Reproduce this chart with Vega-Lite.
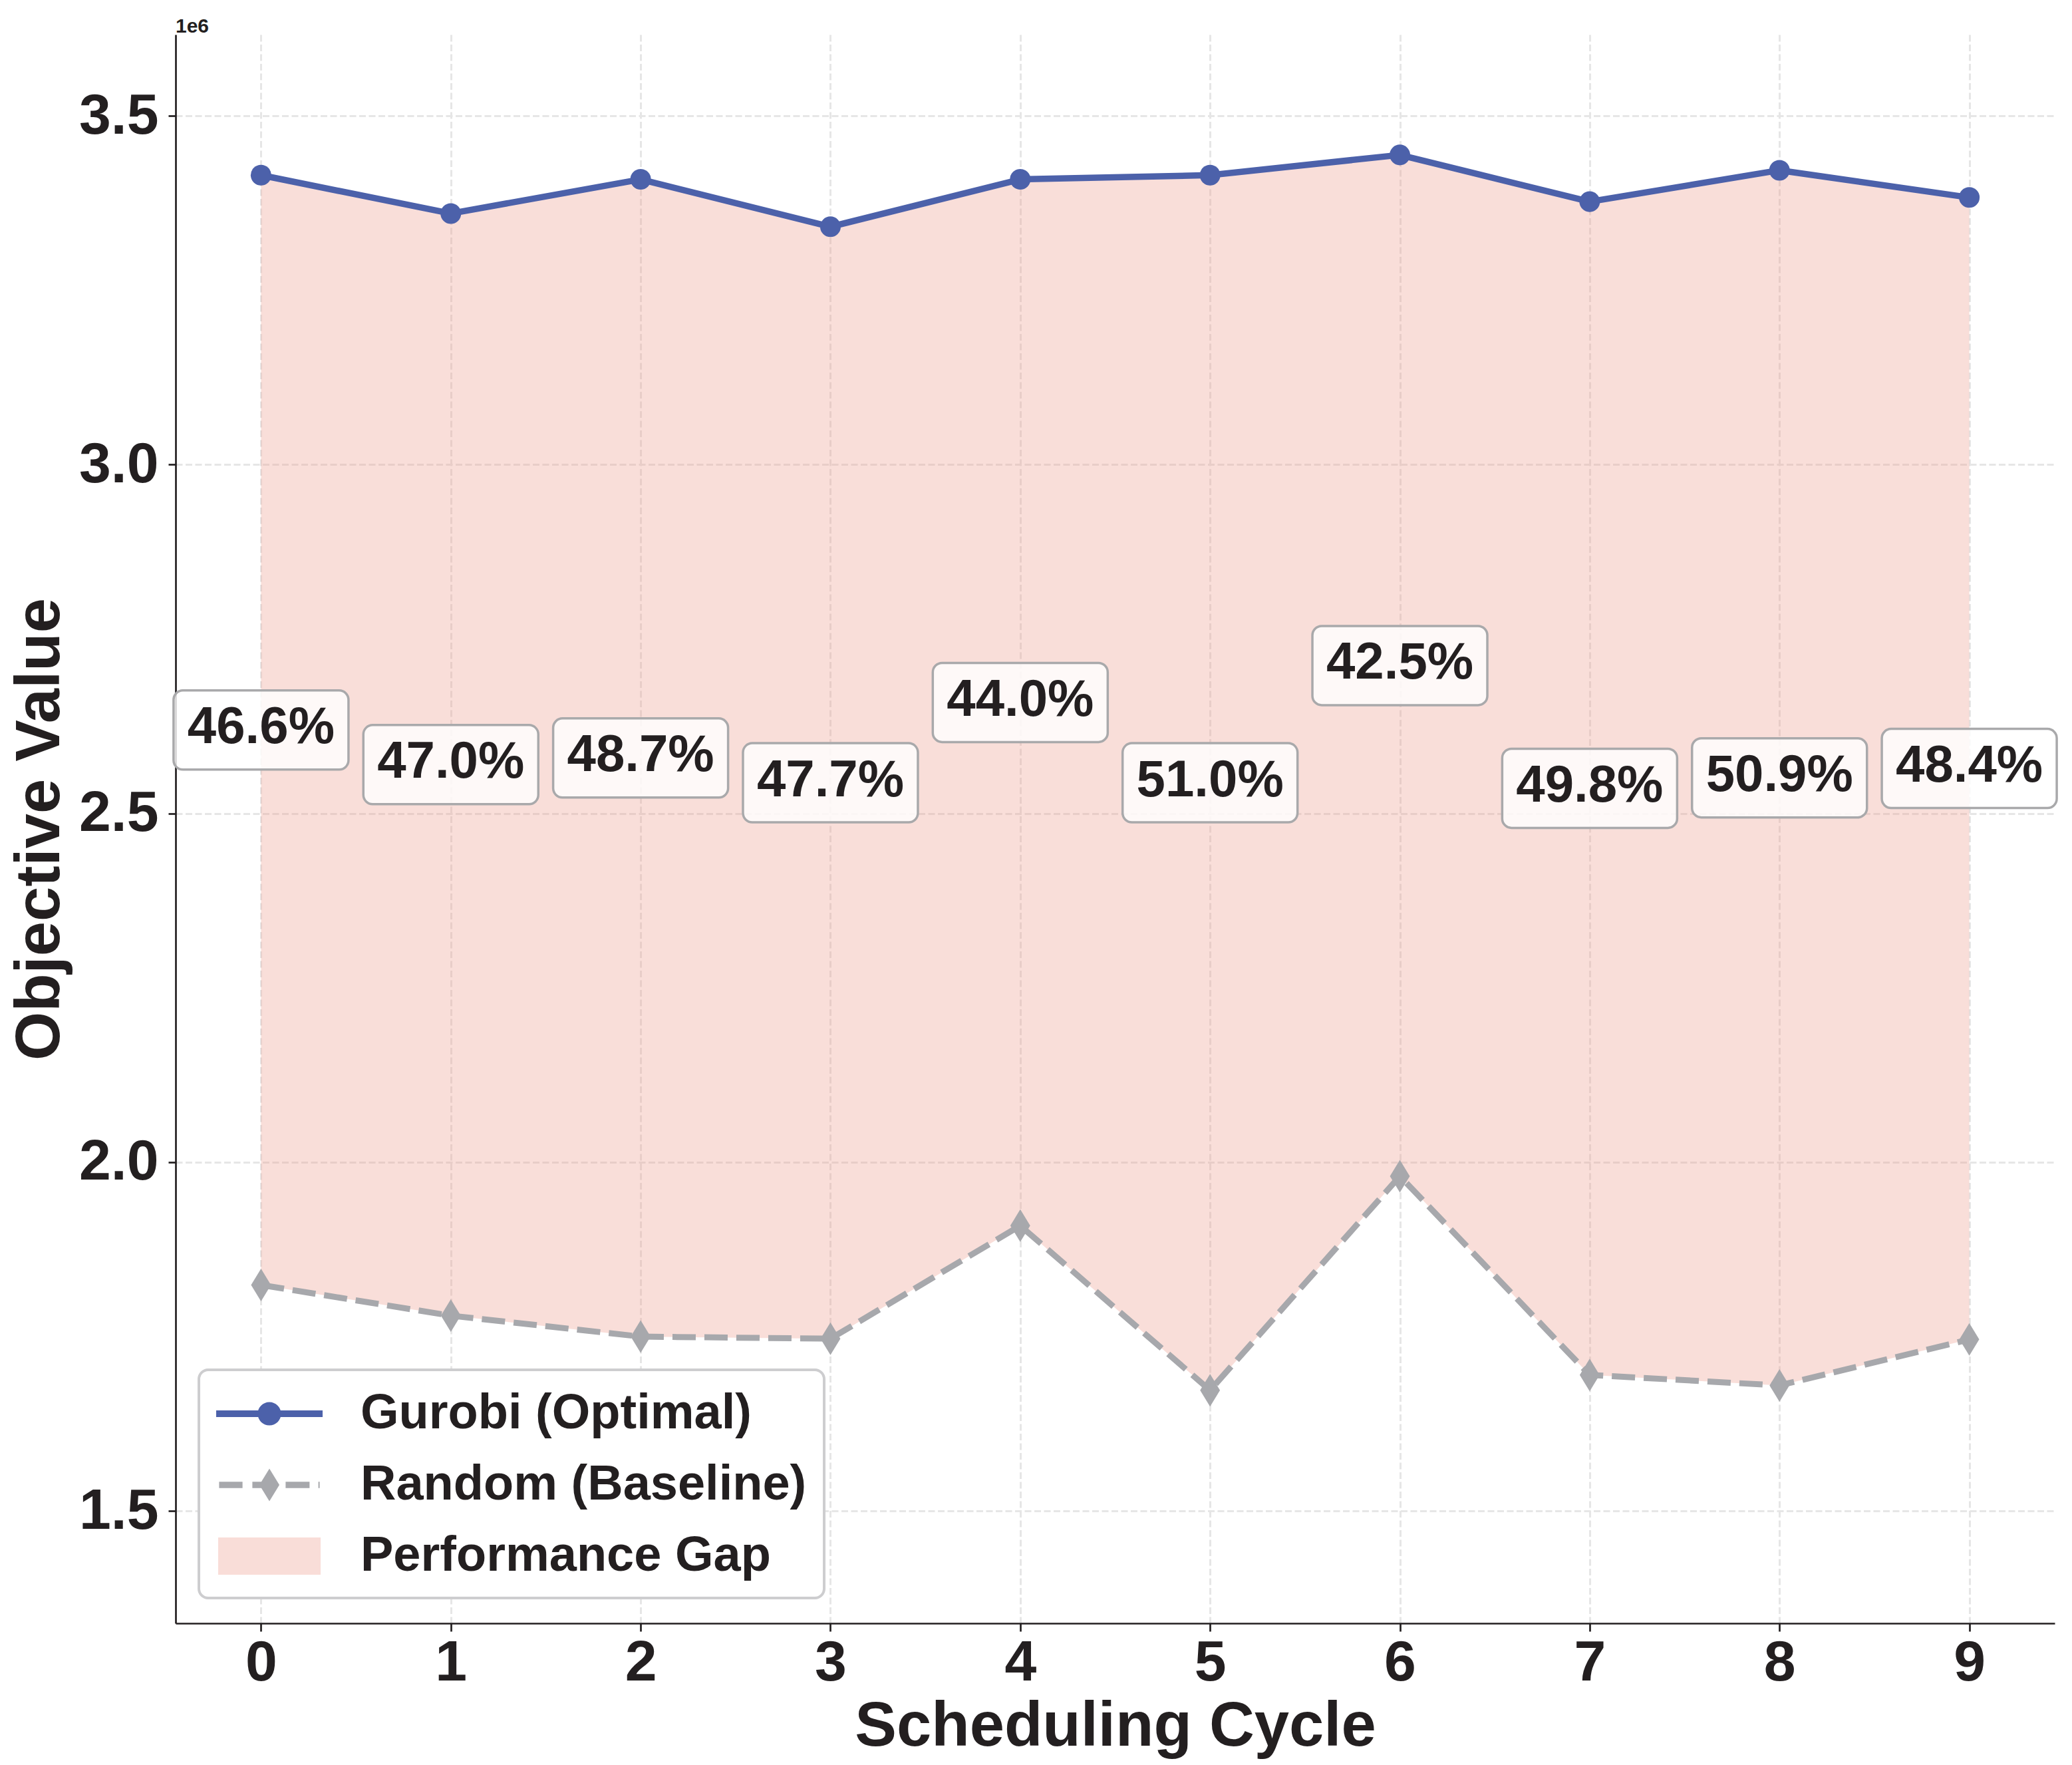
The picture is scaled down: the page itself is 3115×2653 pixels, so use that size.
{
  "$schema": "https://vega.github.io/schema/vega-lite/v6.json",
  "width": 2825,
  "height": 2388,
  "autosize": {"type": "none"},
  "padding": {"left": 264, "top": 52, "right": 26, "bottom": 213},
  "background": "white",
  "title": {"text": "1e6", "anchor": "start", "frame": "group", "fontSize": 30, "fontWeight": "bold", "font": "Liberation Sans", "color": "#231F20", "baseline": "alphabetic", "offset": 9, "dy": 36},
  "config": {
    "view": {"stroke": null},
    "font": "Liberation Sans",
    "legend": {"strokeWidth": 4},
    "axis": {
      "labelFont": "Liberation Sans", "labelFontWeight": "bold", "labelColor": "#231F20", "labelFontSize": 86,
      "titleFont": "Liberation Sans", "titleFontWeight": "bold", "titleColor": "#231F20", "titleFontSize": 94,
      "tickColor": "#231F20", "tickWidth": 2.7, "domainColor": "#231F20", "domainWidth": 2.7,
      "grid": true, "gridColor": "#E6E6E6", "gridWidth": 3, "gridDash": [10, 4.5],
      "labelFlush": false, "labelOverlap": false, "titleBaseline": "alphabetic"
    }
  },
  "datasets": {
    "cycles": [
      {"cycle": 0, "gurobi": 3415000, "random": 1824000, "label_y": 2619500, "gap_label": "46.6%"},
      {"cycle": 1, "gurobi": 3360000, "random": 1780000, "label_y": 2570000, "gap_label": "47.0%"},
      {"cycle": 2, "gurobi": 3409000, "random": 1750000, "label_y": 2579500, "gap_label": "48.7%"},
      {"cycle": 3, "gurobi": 3341000, "random": 1747000, "label_y": 2544000, "gap_label": "47.7%"},
      {"cycle": 4, "gurobi": 3409000, "random": 1909000, "label_y": 2659000, "gap_label": "44.0%"},
      {"cycle": 5, "gurobi": 3415000, "random": 1673000, "label_y": 2544000, "gap_label": "51.0%"},
      {"cycle": 6, "gurobi": 3444000, "random": 1980000, "label_y": 2712000, "gap_label": "42.5%"},
      {"cycle": 7, "gurobi": 3377000, "random": 1695000, "label_y": 2536000, "gap_label": "49.8%"},
      {"cycle": 8, "gurobi": 3422000, "random": 1680000, "label_y": 2551000, "gap_label": "50.9%"},
      {"cycle": 9, "gurobi": 3383000, "random": 1746000, "label_y": 2564500, "gap_label": "48.4%"}
    ]
  },
  "layer": [
    {
      "data": {"name": "cycles"},
      "mark": {"type": "area", "color": "#EE9A8C", "opacity": 0.33},
      "encoding": {
        "x": {"field": "cycle", "type": "quantitative", "title": "Scheduling Cycle",
              "scale": {"domain": [-0.45, 9.45], "nice": false, "zero": false},
              "axis": {"values": [0, 1, 2, 3, 4, 5, 6, 7, 8, 9], "format": "d", "tickSize": 12, "labelPadding": 5, "titleY": 183}},
        "y": {"field": "gurobi", "type": "quantitative", "title": "Objective Value",
              "scale": {"domain": [1339000, 3616500], "nice": false, "zero": false},
              "axis": {"values": [1500000, 2000000, 2500000, 3000000, 3500000], "labelExpr": "format(datum.value / 1000000, '.1f')", "tickSize": 11, "labelPadding": 15, "titleX": -176, "titleAngle": 270}},
        "y2": {"field": "random"}
      }
    },
    {
      "data": {"name": "cycles"},
      "mark": {"type": "line", "color": "#4C61AA", "strokeWidth": 9.5, "strokeJoin": "round"},
      "encoding": {
        "x": {"field": "cycle", "type": "quantitative", "title": "Scheduling Cycle", "scale": {"domain": [-0.45, 9.45], "nice": false, "zero": false}},
        "y": {"field": "gurobi", "type": "quantitative", "title": "Objective Value", "scale": {"domain": [1339000, 3616500], "nice": false, "zero": false}}
      }
    },
    {
      "data": {"name": "cycles"},
      "mark": {"type": "line", "color": "#A7A8AC", "strokeWidth": 9, "strokeDash": [35, 13], "strokeJoin": "round"},
      "encoding": {
        "x": {"field": "cycle", "type": "quantitative", "title": "Scheduling Cycle", "scale": {"domain": [-0.45, 9.45], "nice": false, "zero": false}},
        "y": {"field": "random", "type": "quantitative", "title": "Objective Value", "scale": {"domain": [1339000, 3616500], "nice": false, "zero": false}}
      }
    },
    {
      "data": {"name": "cycles"},
      "mark": {"type": "point", "shape": "circle", "filled": true, "size": 962, "color": "#4C61AA", "opacity": 1},
      "encoding": {
        "x": {"field": "cycle", "type": "quantitative", "title": "Scheduling Cycle", "scale": {"domain": [-0.45, 9.45], "nice": false, "zero": false}},
        "y": {"field": "gurobi", "type": "quantitative", "title": "Objective Value", "scale": {"domain": [1339000, 3616500], "nice": false, "zero": false}}
      }
    },
    {
      "data": {"name": "cycles"},
      "mark": {"type": "point", "shape": "M0,-1L0.61,0L0,1L-0.61,0Z", "filled": true, "size": 2401, "color": "#A7A8AC", "opacity": 1},
      "encoding": {
        "x": {"field": "cycle", "type": "quantitative", "title": "Scheduling Cycle", "scale": {"domain": [-0.45, 9.45], "nice": false, "zero": false}},
        "y": {"field": "random", "type": "quantitative", "title": "Objective Value", "scale": {"domain": [1339000, 3616500], "nice": false, "zero": false}}
      }
    },
    {
      "data": {"name": "cycles"},
      "mark": {"type": "point", "shape": "M-2.35,-1.19L2.35,-1.19A0.28,0.28 0 0 1 2.63,-0.91L2.63,0.91A0.28,0.28 0 0 1 2.35,1.19L-2.35,1.19A0.28,0.28 0 0 1 -2.63,0.91L-2.63,-0.91A0.28,0.28 0 0 1 -2.35,-1.19Z", "size": 10000, "fill": "#FFFFFF", "fillOpacity": 0.82, "stroke": "#A9A9AB", "strokeWidth": 3.5, "opacity": 1},
      "encoding": {
        "x": {"field": "cycle", "type": "quantitative", "title": "Scheduling Cycle", "scale": {"domain": [-0.45, 9.45], "nice": false, "zero": false}},
        "y": {"field": "label_y", "type": "quantitative", "title": "Objective Value", "scale": {"domain": [1339000, 3616500], "nice": false, "zero": false}}
      }
    },
    {
      "data": {"name": "cycles"},
      "mark": {"type": "text", "font": "Liberation Sans", "fontSize": 78, "fontWeight": "bold", "color": "#231F20", "align": "center", "baseline": "middle", "dy": -3},
      "encoding": {
        "x": {"field": "cycle", "type": "quantitative", "title": "Scheduling Cycle", "scale": {"domain": [-0.45, 9.45], "nice": false, "zero": false}},
        "y": {"field": "label_y", "type": "quantitative", "title": "Objective Value", "scale": {"domain": [1339000, 3616500], "nice": false, "zero": false}},
        "text": {"field": "gap_label", "type": "nominal"}
      }
    },
    {
      "data": {"values": []},
      "mark": {"type": "point", "filled": true, "size": 6400, "opacity": 1},
      "encoding": {
        "color": {"field": "series", "type": "nominal",
          "scale": {"domain": ["Gurobi (Optimal)", "Random (Baseline)", "Performance Gap"], "range": ["#4C61AA", "#A7A8AC", "#F9DDD8"]},
          "legend": {"orient": "none", "legendX": 35, "legendY": 2007, "direction": "vertical", "title": null, "padding": 26, "cornerRadius": 14, "strokeColor": "#CDCDCF", "fillColor": "#FFFFFF", "labelFont": "Liberation Sans", "labelFontSize": 74, "labelFontWeight": "bold", "labelColor": "#231F20", "labelOffset": 97, "labelLimit": 2000, "symbolSize": 6400, "symbolOffset": 40, "symbolStrokeWidth": 0, "symbolOpacity": 1, "rowPadding": 30}},
        "shape": {"field": "series", "type": "nominal",
          "scale": {"domain": ["Gurobi (Optimal)", "Random (Baseline)", "Performance Gap"],
                    "range": [
                      "M-2,-0.125L2,-0.125L2,0.125L-2,0.125Z M-0.44,0A0.44,0.44 0 1 1 0.44,0A0.44,0.44 0 1 1 -0.44,0Z",
                      "M-1.89,-0.12L-1.01,-0.12L-1.01,0.12L-1.89,0.12Z M-0.64,-0.12L0.24,-0.12L0.24,0.12L-0.64,0.12Z M0.61,-0.12L1.51,-0.12L1.51,0.12L0.61,0.12Z M1.84,-0.12L1.89,-0.12L1.89,0.12L1.84,0.12Z M0,-0.61L0.375,0L0,0.61L-0.375,0Z",
                      "M-1.925,-0.7L1.925,-0.7L1.925,0.7L-1.925,0.7Z"
                    ]},
          "legend": {"orient": "none", "legendX": 35, "legendY": 2007, "direction": "vertical", "title": null}}
      }
    }
  ]
}
